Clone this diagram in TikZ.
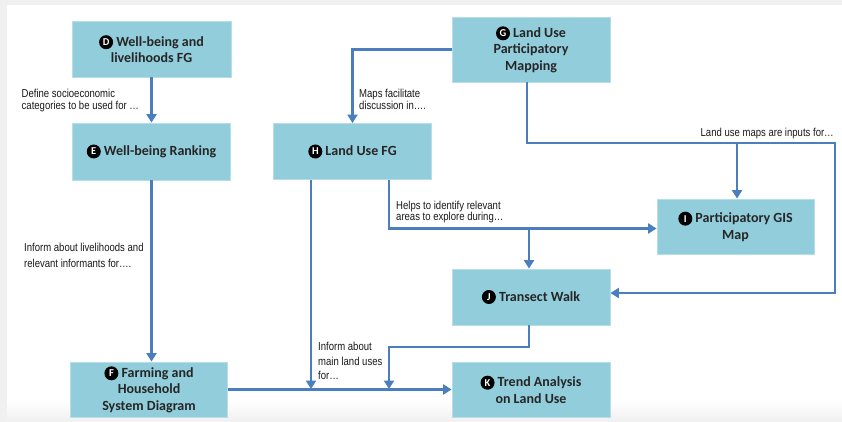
\documentclass[tikz,border=0pt]{standalone}
\usepackage{fontspec}
\setmainfont{Carlito}
\newfontfamily\notefont[FakeStretch=0.83]{Liberation Sans}
\usetikzlibrary{arrows.meta}

\definecolor{boxfill}{RGB}{146,205,220}
\definecolor{boxedge}{RGB}{182,221,232}
\definecolor{flow}{RGB}{74,126,190}
\definecolor{frame}{RGB}{240,240,240}

% circled step letter placed before a box title
\newcommand\stepbadge[1]{\tikz[baseline=-4pt]\node[circle,fill=black,text=white,inner sep=0pt,minimum size=14pt,font=\bfseries\fontsize{10.5}{10.5}\selectfont] at (0,0) {#1};}

\tikzset{
  box/.style={rectangle,fill=boxfill,draw=boxedge,line width=0.8pt,
    align=center,inner sep=2pt,
    font=\bfseries\fontsize{14}{16.5}\selectfont,text=black!85},
  conn/.style={draw=flow,line width=2.2pt,
    -{Triangle[width=10pt,length=8.5pt]}},
  note/.style={inner sep=0pt,align=left,text=black!90}
}

\begin{document}
\begin{tikzpicture}[x=1pt,y=-1pt]
  % page frame
  \fill[frame] (0,0) rectangle (842,422);
  \fill[white] (7,5) rectangle (842,400);
  \shade[top color=white,bottom color=frame] (7,400) rectangle (842,422);
  \useasboundingbox (0,0) rectangle (842,422);

  % boxes
  \node[box,minimum width=159pt,minimum height=56pt] (D) at (151.5,49)
    {\stepbadge{D} Well-being and\\livelihoods FG};
  \node[box,minimum width=158pt,minimum height=65pt] (G) at (531,49.5)
    {\stepbadge{G} Land Use\\Participatory\\Mapping};
  \node[box,minimum width=158pt,minimum height=57pt] (E) at (151.5,151.5)
    {\stepbadge{E} Well-being Ranking};
  \node[box,minimum width=158pt,minimum height=56pt] (H) at (352.5,151.5)
    {\stepbadge{H} Land Use FG};
  \node[box,minimum width=157pt,minimum height=55pt] (I) at (735.5,226.5)
    {\stepbadge{I} Participatory GIS\\Map};
  \node[box,minimum width=158pt,minimum height=56pt] (J) at (531,297)
    {\stepbadge{J} Transect Walk};
  \node[box,minimum width=157pt,minimum height=55pt] (F) at (149,389.5)
    {\stepbadge{F} Farming and\\Household\\System Diagram};
  \node[box,minimum width=158pt,minimum height=55pt] (K) at (531,389.5)
    {\stepbadge{K} Trend Analysis\\on Land Use};

  % routing points
  \coordinate (gTurn) at (527,143);
  \coordinate (gCorner) at (835,143);
  \coordinate (jIn) at (835,293);
  \coordinate (iDrop) at (737,143);
  \coordinate (hTurn) at (389,228.5);
  \coordinate (jDrop) at (529,228.5);
  \coordinate (hDown) at (311,389);
  \coordinate (tTurn) at (529,347);
  \coordinate (tCorner) at (389,347);
  \coordinate (tDown) at (389,389);

  % connectors
  \draw[conn] (D.south) -- (D.south |- E.north);
  \draw[conn] (E.south) -- (E.south |- F.north);
  \draw[conn] (G.west) -| (H.north);
  \draw[conn] (gTurn |- G.south) -- (gTurn) -- (gCorner) -- (jIn) -- (jIn -| J.east);
  \draw[conn] (iDrop) -- (iDrop |- I.north);
  \draw[conn] (hTurn |- H.south) -- (hTurn) -- (hTurn -| I.west);
  \draw[conn] (jDrop) -- (jDrop |- J.north);
  \draw[conn] (hDown |- H.south) -- (hDown);
  \draw[conn] (tTurn |- J.south) -- (tTurn) -- (tCorner) -- (tDown);
  \draw[conn] (F.east) -- (K.west);

  % connector labels
  \node[note,anchor=north west,font=\notefont\fontsize{11.5}{12}\selectfont] (lD) at (21.5,88.5)
    {Define socioeconomic\\categories to be used for \dots};
  \node[note,anchor=north west,font=\notefont\fontsize{11.5}{12}\selectfont] (lG) at (359,88.5)
    {Maps facilitate\\discussion in\dots.};
  \node[note,anchor=north west,font=\notefont\fontsize{11.5}{16}\selectfont] (lE) at (24,243)
    {Inform about livelihoods and\\relevant informants for\dots.};
  \node[note,anchor=north west,font=\notefont\fontsize{11.5}{11.5}\selectfont] (lH) at (396,200.5)
    {Helps to identify relevant\\areas to explore during\dots};
  \node[note,anchor=north east,font=\notefont\fontsize{11.5}{12}\selectfont] (lM) at (834,128)
    {Land use maps are inputs for\dots};
  \node[note,anchor=north west,font=\notefont\fontsize{11.5}{14.5}\selectfont] (lU) at (318,342)
    {Inform about\\main land uses\\for\dots};
\end{tikzpicture}
\end{document}
